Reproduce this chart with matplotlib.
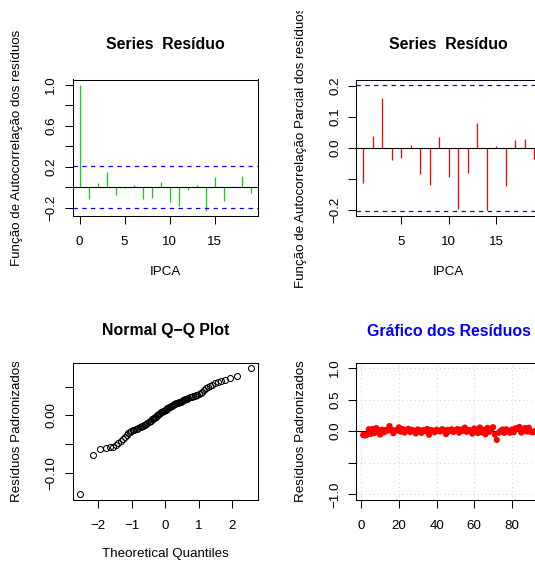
"""
Diagnostic panels for the IPCA model residuals: ACF, PACF, normal Q-Q plot
and the standardized residuals over time (2x2 layout, right column clipped).
"""

from statistics import NormalDist

import matplotlib

matplotlib.use("Agg")
import matplotlib.pyplot as plt
import numpy as np
from matplotlib.transforms import Bbox, TransformedBbox

plt.rcParams["font.family"] = ["Liberation Sans", "DejaVu Sans"]

# --- data ------------------------------------------------------------------
acf_lags = list(range(0, 20))
acf_values = [
    1.0, -0.117, 0.045, 0.146, -0.078, -0.005, 0.026, -0.113, -0.100, 0.049,
    -0.146, -0.181, -0.026, 0.019, -0.230, 0.097, -0.133, 0.016, 0.113, -0.052,
]

pacf_lags = list(range(1, 20))
pacf_values = [
    -0.114, 0.037, 0.160, -0.040, -0.032, 0.008, -0.086, -0.121, 0.036, -0.093,
    -0.198, -0.081, 0.079, -0.201, 0.006, -0.123, 0.025, 0.029, -0.035,
]

# standardized residuals in time order
residuals = [
    -0.059, -0.068, -0.057, 0.031, -0.041, 0.036, -0.027, 0.050, 0.014, -0.052,
    0.024, -0.019, 0.021, 0.009, 0.082, 0.028, -0.031, 0.016, 0.011, 0.062,
    -0.006, 0.033, -0.020, 0.018, 0.040, -0.013, 0.023, 0.005, -0.034, 0.029,
    0.013, -0.025, 0.019, 0.003, 0.037, -0.055, 0.020, 0.008, -0.016, 0.025,
    0.010, -0.004, 0.032, 0.017, -0.045, 0.023, 0.001, 0.030, -0.012, 0.015,
    0.034, -0.022, 0.026, 0.007, 0.058, -0.009, 0.021, 0.012, -0.037, 0.044,
    0.004, -0.028, 0.060, -0.018, 0.022, -0.048, 0.053, -0.010, 0.035, 0.064,
    -0.054, -0.137, -0.024, 0.006, 0.027, -0.026, 0.031, -0.003, -0.023, 0.028,
    -0.015, 0.048, 0.038, 0.068, -0.021, -0.002, 0.051, -0.005, 0.056, -0.007,
    -0.017, 0.000,
]

acf_yticks = [-0.2, 0.0, 0.2, 0.4, 0.6, 0.8, 1.0]
acf_ylabels = ["−0.2", "", "0.2", "", "0.6", "", "1.0"]
pacf_yticks = [-0.2, -0.1, 0.0, 0.1, 0.2]
pacf_ylabels = ["−0.2", "", "0.0", "0.1", "0.2"]
qq_yticks = [-0.10, -0.05, 0.00, 0.05]
qq_ylabels = ["−0.10", "", "0.00", ""]
res_yticks = [-1.0, -0.5, 0.0, 0.5, 1.0]
res_ylabels = ["−1.0", "", "0.0", "0.5", "1.0"]

W, H = 535, 561
FS = 9.6
FS_TITLE = 11.4
GREEN = "#10d010"


def px_axes(fig, left, top, right, bottom):
    return fig.add_axes([left / W, 1 - bottom / H, (right - left) / W, (bottom - top) / H])


def r_lim(lo, hi):
    """R-style axis range: data range padded by 4% on each side."""
    d = 0.04 * (hi - lo)
    return lo - d, hi + d


def style(ax, title, xlabel, ylabel, title_gap, title_color="black"):
    for s in ax.spines.values():
        s.set_linewidth(0.75)
    ax.tick_params(direction="out", length=5.5, width=0.75, labelsize=FS)
    ax.tick_params(axis="x", pad=9.0)
    ax.tick_params(axis="y", labelrotation=90, pad=5.5)
    for lab in ax.get_yticklabels():
        lab.set_verticalalignment("center")
    ax.set_title(title, fontsize=FS_TITLE, fontweight="bold", color=title_color,
                 y=1 + title_gap / 136.5, va="center", pad=0)
    if xlabel:
        ax.set_xlabel(xlabel, fontsize=FS)
        ax.xaxis.set_label_coords(0.5, -56 / 136.5)
        ax.xaxis.label.set_verticalalignment("center")
    ax.set_ylabel(ylabel, fontsize=FS)
    ax.yaxis.set_label_coords(-55.2 / 185, 0.5)
    ax.yaxis.label.set_verticalalignment("center")


n = len(residuals)
clim = 1.96 / np.sqrt(n)

fig = plt.figure(figsize=(W / 100, H / 100), dpi=100)

# ACF
ax1 = px_axes(fig, 72.7, 79.5, 257.7, 216)
ax1.vlines(acf_lags, 0, acf_values, colors=GREEN, linewidth=0.9)
ax1.axhline(0, color="black", linewidth=0.8)
for c in (clim, -clim):
    ax1.axhline(c, color="#0000ff", linewidth=0.9, linestyle=(0, (3.5, 3.5)))
ax1.set_xlim(*r_lim(0, 19))
ax1.set_ylim(*r_lim(min(-clim, min(acf_values)), max(clim, max(acf_values))))
ax1.set_xticks([0, 5, 10, 15])
ax1.set_yticks(acf_yticks, acf_ylabels)
style(ax1, "Series  Resíduo", "IPCA", "Função de Autocorrelação dos resíduos", 35)

# PACF
ax2 = px_axes(fig, 356.3, 79.5, 541.3, 216)
ax2.vlines(pacf_lags, 0, pacf_values, colors="red", linewidth=0.9)
ax2.axhline(0, color="black", linewidth=0.8)
for c in (clim, -clim):
    ax2.axhline(c, color="#0000ff", linewidth=0.9, linestyle=(0, (3.5, 3.5)))
ax2.set_xlim(*r_lim(1, 19))
ax2.set_ylim(*r_lim(min(-clim, min(pacf_values)), max(clim, max(pacf_values))))
ax2.set_xticks([5, 10, 15])
ax2.set_yticks(pacf_yticks, pacf_ylabels)
style(ax2, "Series  Resíduo", "IPCA", "Função de Autocorrelação Parcial dos resíduos", 35)
# the long label runs past the top of the device in the original
lab2 = ax2.yaxis.label
lab2.set_clip_box(TransformedBbox(Bbox([[0, 0], [1, (H - 11) / H]]), fig.transFigure))
lab2.set_clip_on(True)

# Normal Q-Q
sample = np.sort(residuals)
theo = np.array([NormalDist().inv_cdf((i - 0.5) / n) for i in range(1, n + 1)])
ax3 = px_axes(fig, 72.7, 363, 257.7, 499.5)
ax3.plot(theo, sample, linestyle="none", marker="o", markersize=4.3,
         markerfacecolor="none", markeredgecolor="black", markeredgewidth=0.75)
ax3.set_xlim(*r_lim(theo.min(), theo.max()))
ax3.set_ylim(*r_lim(sample.min(), sample.max()))
ax3.set_xticks([-2, -1, 0, 1, 2], ["−2", "−1", "0", "1", "2"])
ax3.set_yticks(qq_yticks, qq_ylabels)
style(ax3, "Normal Q−Q Plot", "Theoretical Quantiles", "Resíduos Padronizados", 32)
ax3.xaxis.set_label_coords(0.5, -54.5 / 136.5)

# residuals over time
t = np.arange(1, n + 1)
ax4 = px_axes(fig, 356.3, 363, 541.3, 499.5)
ax4.set_xlim(*r_lim(1, n))
ax4.set_ylim(*r_lim(-1, 1))
ax4.set_xticks([0, 20, 40, 60, 80])
ax4.set_yticks(res_yticks, res_ylabels)
ax4.grid(True, color="lightgray", linestyle=(0, (1, 3)), linewidth=0.75)
ax4.set_axisbelow(True)
ax4.axhline(0, color="black", linewidth=0.8)
ax4.scatter(t, residuals, s=20, color="red", edgecolors="none", zorder=3)
style(ax4, "Gráfico dos Resíduos", None, "Resíduos Padronizados", 32, title_color="blue")

fig.savefig("out.png", dpi=100)
